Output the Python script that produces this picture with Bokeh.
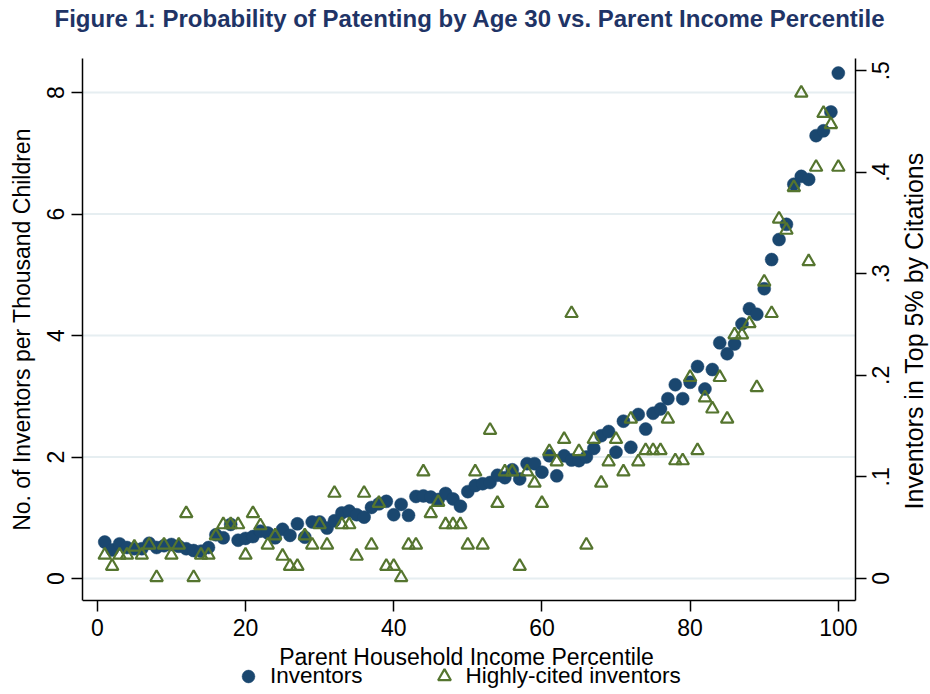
import math
from bokeh.plotting import figure
from bokeh.models import (Range1d, LinearAxis, FixedTicker, Legend, LegendItem,
                          ColumnDataSource)
from bokeh.embed import file_html
from bokeh.resources import INLINE

percentile = list(range(1, 101))

inventors = [0.60, 0.47, 0.57, 0.51, 0.49, 0.49, 0.58, 0.51, 0.54, 0.56,
             0.53, 0.49, 0.46, 0.45, 0.51, 0.72, 0.67, 0.89, 0.63, 0.66,
             0.69, 0.78, 0.75, 0.67, 0.81, 0.71, 0.90, 0.68, 0.93, 0.93,
             0.83, 0.95, 1.08, 1.11, 1.05, 1.01, 1.17, 1.23, 1.27, 1.05,
             1.22, 1.04, 1.35, 1.36, 1.34, 1.30, 1.40, 1.31, 1.19, 1.43,
             1.53, 1.56, 1.58, 1.70, 1.66, 1.79, 1.64, 1.89, 1.89, 1.75,
             2.02, 1.69, 2.02, 1.95, 1.94, 2.00, 2.14, 2.35, 2.42, 2.08,
             2.59, 2.16, 2.70, 2.46, 2.72, 2.79, 2.96, 3.19, 2.96, 3.23,
             3.49, 3.12, 3.44, 3.88, 3.70, 3.86, 4.19, 4.44, 4.35, 4.77,
             5.25, 5.58, 5.83, 6.49, 6.62, 6.57, 7.29, 7.37, 7.68, 8.32]

highly_cited = [0.023, 0.012, 0.023, 0.023, 0.031, 0.023, 0.033, 0.001, 0.033, 0.023,
                0.033, 0.064, 0.001, 0.023, 0.023, 0.042, 0.053, 0.053, 0.053, 0.023,
                0.064, 0.052, 0.033, 0.042, 0.022, 0.012, 0.012, 0.042, 0.033, 0.053,
                0.033, 0.084, 0.053, 0.053, 0.022, 0.084, 0.033, 0.074, 0.012, 0.012,
                0.001, 0.033, 0.033, 0.105, 0.064, 0.075, 0.053, 0.053, 0.053, 0.033,
                0.105, 0.033, 0.146, 0.074, 0.105, 0.105, 0.012, 0.105, 0.094, 0.074,
                0.125, 0.115, 0.137, 0.261, 0.125, 0.033, 0.137, 0.094, 0.115, 0.137,
                0.105, 0.157, 0.115, 0.126, 0.126, 0.126, 0.157, 0.116, 0.116, 0.198,
                0.126, 0.178, 0.167, 0.198, 0.157, 0.240, 0.240, 0.251, 0.188, 0.292,
                0.261, 0.354, 0.343, 0.385, 0.478, 0.312, 0.405, 0.458, 0.447, 0.405]

x_ticks = [0, 20, 40, 60, 80, 100]
left_ticks = [0, 2, 4, 6, 8]
right_ticks = [0, 0.1, 0.2, 0.3, 0.4, 0.5]
right_tick_labels = ["0", ".1", ".2", ".3", ".4", ".5"]

title_text = "Figure 1: Probability of Patenting by Age 30 vs. Parent Income Percentile"
x_title = "Parent Household Income Percentile"
left_title = "No. of Inventors per Thousand Children"
right_title = "Inventors in Top 5% by Citations"
legend_labels = ["Inventors", "Highly-cited inventors"]

NAVY = "#1a476f"
GREEN = "#55752f"
GRID = "#e6eef1"
FONT = "Liberation Sans"
FSPX = 23
FS = f"{FSPX}px"
RT_PX = 25   # right-hand title size

W, H = 930, 694
BL, BT = 82, 33                  # left / top borders; frame runs to the right and bottom edges
FW = W - BL
PLOT_W = 773                     # width of the axis box

PX_X = 7.41                      # pixels per percentile point
X_LO = -2.0
X_B = X_LO + PLOT_W / PX_X       # right end of the axis box
X_HI = X_LO + FW / PX_X
L_LO, L_HI = -0.362, 8.56        # left axis bounds
R_LO, R_HI = -0.0217, 0.512      # right axis bounds
PX_L = 60.75
PX_R = 1015.6
TOP_PAD, BOT_PAD = 25, 94
LV_LO, LV_HI = L_LO - BOT_PAD / PX_L, L_HI + TOP_PAD / PX_L
RV_LO, RV_HI = R_LO - BOT_PAD / PX_R, R_HI + TOP_PAD / PX_R

ADV = {".": 0.278, " ": 0.278, "I": 0.278, "n": 0.556, "v": 0.5, "e": 0.556,
       "t": 0.278, "o": 0.556, "r": 0.333, "s": 0.5, "i": 0.222, "T": 0.611,
       "p": 0.556, "%": 0.889, "b": 0.556, "y": 0.5, "C": 0.722, "a": 0.556}
def text_len(s, size=FSPX):
    return sum(ADV.get(c, 0.556) for c in s) * size

src = ColumnDataSource(dict(pct=percentile, inv=inventors, hc=highly_cited))
grid_src = ColumnDataSource(dict(y=left_ticks, x0=[X_LO] * len(left_ticks),
                                 x1=[X_B] * len(left_ticks)))

p = figure(width=W, height=H,
           x_range=Range1d(X_LO, X_HI), y_range=Range1d(LV_LO, LV_HI),
           output_backend="svg", toolbar_location=None,
           min_border_left=BL, min_border_right=0,
           min_border_top=BT, min_border_bottom=0)
p.extra_y_ranges = {"right": Range1d(RV_LO, RV_HI)}
p.outline_line_color = None
p.background_fill_color = "white"
p.border_fill_color = "white"
p.xgrid.visible = False
p.ygrid.visible = False

p.title.text = title_text
p.title.align = "left"
p.title.offset = -28
p.title.text_font = FONT
p.title.text_font_size = "24px"
p.title.text_font_style = "bold"
p.title.text_color = "#1f3466"
p.title.vertical_align = "middle"
p.title.standoff = 1

def style_axis(ax):
    ax.axis_line_color = "black"
    ax.axis_line_width = 1.5
    ax.major_tick_line_color = "black"
    ax.major_tick_line_width = 1.5
    ax.major_tick_out = 11
    ax.major_tick_in = 0
    ax.minor_tick_line_color = None
    ax.major_label_text_font = FONT
    ax.major_label_text_font_size = FS
    ax.major_label_text_color = "black"

def text_only(ax):
    ax.axis_line_color = None
    ax.major_tick_line_color = None
    ax.major_tick_out = 0

# bottom axis, drawn at the lower bound of the left axis
xa = p.below[0]
style_axis(xa)
xa.ticker = FixedTicker(ticks=x_ticks)
xa.bounds = (X_LO, X_B)
xa.major_label_standoff = 7
xa.fixed_location = L_LO

# bottom title, centred under the axis box
x_mid = X_LO + 384 / PX_X
xb = LinearAxis(ticker=FixedTicker(ticks=[x_mid]),
                major_label_overrides={x_mid: x_title})
style_axis(xb)
text_only(xb)
xb.major_label_standoff = 43
xb.fixed_location = L_LO
p.add_layout(xb, "below")

# left axis
ya = p.left[0]
style_axis(ya)
ya.ticker = FixedTicker(ticks=left_ticks)
ya.bounds = (L_LO, L_HI)
ya.major_label_orientation = "vertical"
ya.major_label_standoff = 7

# left title, centred on the axis bounds
l_mid = (L_LO + L_HI) / 2
lt = LinearAxis(ticker=FixedTicker(ticks=[l_mid]),
                major_label_overrides={l_mid: left_title})
style_axis(lt)
text_only(lt)
lt.major_label_orientation = "vertical"
lt.major_label_standoff = 9
p.add_layout(lt, "left")

# right axis: line + tick marks, at the right end of the axis box
ra = LinearAxis(y_range_name="right", ticker=FixedTicker(ticks=right_ticks),
                bounds=(R_LO, R_HI), fixed_location=X_B,
                major_label_overrides={t: "" for t in right_ticks})
style_axis(ra)
ra.major_label_text_font_size = "0px"
ra.major_label_standoff = 0
p.add_layout(ra, "right")

# right axis tick labels (bottom-to-top, centred on the ticks)
lab_ticks = [t - text_len(s) / 2 / PX_R for t, s in zip(right_ticks, right_tick_labels)]
rb = LinearAxis(y_range_name="right", ticker=FixedTicker(ticks=lab_ticks),
                fixed_location=X_B,
                major_label_overrides={t: s for t, s in zip(lab_ticks, right_tick_labels)})
style_axis(rb)
text_only(rb)
rb.major_label_orientation = math.pi / 2
rb.major_label_standoff = 25
p.add_layout(rb, "right")

# right axis title (bottom-to-top, centred on the axis bounds)
title_start = (R_LO + R_HI) / 2 - text_len(right_title, RT_PX) / 2 / PX_R
rc = LinearAxis(y_range_name="right", ticker=FixedTicker(ticks=[title_start]),
                fixed_location=X_B,
                major_label_overrides={title_start: right_title})
style_axis(rc)
text_only(rc)
rc.major_label_text_font_size = f"{RT_PX}px"
rc.major_label_orientation = math.pi / 2
rc.major_label_standoff = 59
p.add_layout(rc, "right")

# horizontal grid lines at the left-axis ticks, limited to the axis box
p.segment(x0="x0", x1="x1", y0="y", y1="y", source=grid_src,
          line_color=GRID, line_width=2)

r1 = p.scatter("pct", "inv", source=src, marker="circle", size=13,
               fill_color=NAVY, line_color=NAVY, line_width=0.5)
r2 = p.scatter("pct", "hc", source=src, marker="triangle", size=12.5,
               fill_color=None, line_color=GREEN, line_width=2.2,
               y_range_name="right")

legend = Legend(items=[LegendItem(label=legend_labels[0], renderers=[r1]),
                       LegendItem(label=legend_labels[1], renderers=[r2])],
                orientation="horizontal", location=(150, 2),
                glyph_width=32, glyph_height=32, label_standoff=6, spacing=65,
                padding=0, margin=0, border_line_color=None,
                background_fill_alpha=0,
                label_text_font=FONT, label_text_font_size="22.5px",
                label_text_color="black")
p.add_layout(legend)

open("out.html", "w").write(file_html(p, INLINE))
